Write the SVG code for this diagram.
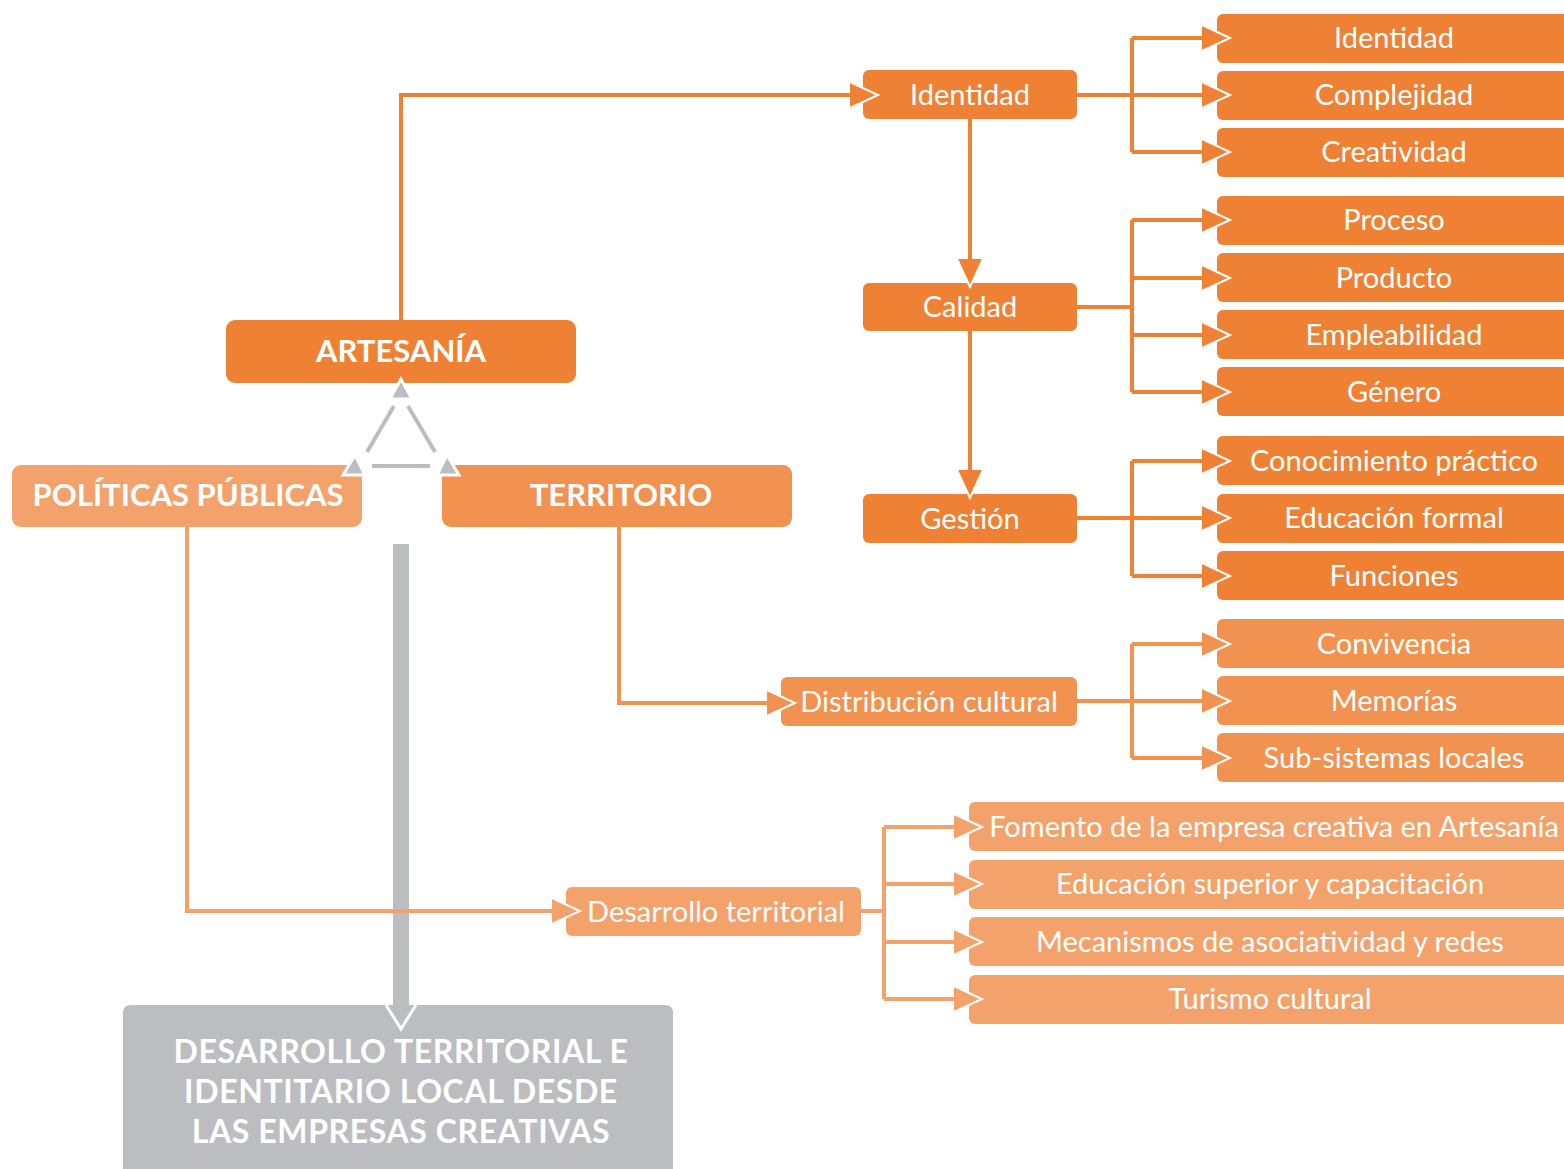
<svg xmlns="http://www.w3.org/2000/svg" xmlns:xlink="http://www.w3.org/1999/xlink" width="1564" height="1169" viewBox="0 0 1564 1169">
  <style>
    .dk { fill: #EF8134; }
    .md { fill: #F29250; }
    .lt { fill: #F4A26B; }
    .gr { fill: #BCBDC0; }
    .t  { font-family: Lato, "Open Sans", "Liberation Sans", sans-serif; font-size: 29px; font-weight: normal; fill: #FFFFFF; text-anchor: middle; }
    .tb { font-family: Lato, "Open Sans", "Liberation Sans", sans-serif; font-size: 31px; font-weight: bold; fill: #FFFFFF; text-anchor: middle; }
    .tg { font-family: Lato, "Open Sans", "Liberation Sans", sans-serif; font-size: 32px; font-weight: bold; letter-spacing: 0.6px; fill: #FFFFFF; text-anchor: middle; }
    .ln { fill: none; stroke-width: 4; }
    .sdk { stroke: #EF8134; }
    .smd { stroke: #F29250; }
    .slt { stroke: #F4A26B; }
  </style>
  <defs>
    <!-- arrowheads pointing right, tip at origin; the white edge separates each from the box it enters -->
    <g id="ah-dk">
      <polygon points="-28,-13 0,0 -28,13" fill="#EF8134"/>
      <polyline points="-28,-13 0,0 -28,13" fill="none" stroke="#FFFFFF" stroke-width="2"/>
    </g>
    <g id="ah-md">
      <polygon points="-28,-13 0,0 -28,13" fill="#F29250"/>
      <polyline points="-28,-13 0,0 -28,13" fill="none" stroke="#FFFFFF" stroke-width="2"/>
    </g>
    <g id="ah-lt">
      <polygon points="-28,-13 0,0 -28,13" fill="#F4A26B"/>
      <polyline points="-28,-13 0,0 -28,13" fill="none" stroke="#FFFFFF" stroke-width="2"/>
    </g>
  </defs>

  <rect width="1564" height="1169" fill="#FFFFFF"/>

  <!-- connector lines -->
  <g id="connectors">
    <!-- ARTESANÍA to Identidad -->
    <path class="ln sdk" d="M401,322 V95 H852"/>
    <!-- Identidad to Calidad to Gestión -->
    <path class="ln sdk" d="M970,119 V270"/>
    <path class="ln sdk" d="M970,331 V482"/>
    <!-- Identidad branch -->
    <path class="ln sdk" d="M1077,95 H1205 M1132,38 V152 M1132,38 H1205 M1132,152 H1205"/>
    <!-- Calidad branch -->
    <path class="ln sdk" d="M1077,307 H1132 M1132,220 V392 M1132,220 H1205 M1132,278 H1205 M1132,335 H1205 M1132,392 H1205"/>
    <!-- Gestión branch -->
    <path class="ln sdk" d="M1077,518 H1205 M1132,461 V576 M1132,461 H1205 M1132,576 H1205"/>
    <!-- TERRITORIO to Distribución cultural -->
    <path class="ln smd" d="M619,527 V703 H770"/>
    <!-- Distribución cultural branch -->
    <path class="ln smd" d="M1077,701 H1205 M1132,644 V758 M1132,644 H1205 M1132,758 H1205"/>
  </g>

  <!-- gray trunk arrow down to the outcome box -->
  <g id="trunk">
    <path class="gr" d="M393,544 H409 V1005 H415 L401,1029 L387,1005 H393 Z"/>
  </g>

  <!-- outcome box -->
  <g id="node-desarrollo-local">
    <path class="gr" d="M123,1013 Q123,1005 131,1005 H665 Q673,1005 673,1013 V1169 H123 Z"/>
    <polyline points="386,1005 401,1029 416,1005" fill="none" stroke="#FFFFFF" stroke-width="3"/>
    <text class="tg" x="401" y="1063">DESARROLLO TERRITORIAL E</text>
    <text class="tg" x="401" y="1103">IDENTITARIO LOCAL DESDE</text>
    <text class="tg" x="401" y="1143">LAS EMPRESAS CREATIVAS</text>
  </g>

  <!-- POLÍTICAS PÚBLICAS to Desarrollo territorial (drawn over the trunk) -->
  <g id="connectors-politicas">
    <path class="ln slt" d="M187,527 V911 H555"/>
    <path class="ln slt" d="M861,911 H884 M884,827 V999 M884,827 H958 M884,884 H958 M884,942 H958 M884,999 H958"/>
  </g>

  <!-- main nodes -->
  <g id="node-artesania">
    <rect class="dk" x="226" y="320" width="350" height="63" rx="9"/>
    <text class="tb" x="401" y="362">ARTESANÍA</text>
  </g>
  <g id="node-politicas">
    <rect class="lt" x="12" y="465" width="350" height="62" rx="9"/>
    <text class="tb" x="188" y="506">POLÍTICAS PÚBLICAS</text>
  </g>
  <g id="node-territorio">
    <rect class="md" x="442" y="465" width="350" height="62" rx="9"/>
    <text class="tb" x="621" y="506">TERRITORIO</text>
  </g>

  <!-- triangle linking the three pillars -->
  <g id="triangle" fill="#BCBDC0">
    <path class="ln" stroke="#BCBDC0" d="M394,406 L367,452 M408,406 L435,452 M372,466 H430"/>
    <polygon points="401,379 390,399 412,399" stroke="#FFFFFF" stroke-width="3"/>
    <polygon points="343,475 365,475 355,455" stroke="#FFFFFF" stroke-width="3"/>
    <polygon points="459,475 437,475 447,455" stroke="#FFFFFF" stroke-width="3"/>
  </g>

  <!-- middle column -->
  <g id="node-identidad">
    <rect class="dk" x="863" y="70" width="214" height="49" rx="6"/>
    <text class="t" x="970" y="105">Identidad</text>
  </g>
  <g id="node-calidad">
    <rect class="dk" x="863" y="283" width="214" height="48" rx="6"/>
    <text class="t" x="970" y="317">Calidad</text>
  </g>
  <g id="node-gestion">
    <rect class="dk" x="863" y="494" width="214" height="49" rx="6"/>
    <text class="t" x="970" y="529">Gestión</text>
  </g>
  <g id="node-distribucion">
    <rect class="md" x="781" y="677" width="296" height="49" rx="6"/>
    <text class="t" x="929" y="712">Distribución cultural</text>
  </g>
  <g id="node-desarrollo-territorial">
    <rect class="lt" x="566" y="887" width="295" height="49" rx="6"/>
    <text class="t" x="716" y="922">Desarrollo territorial</text>
  </g>

  <!-- right column: Identidad -->
  <g id="node-r-identidad"><rect class="dk" x="1217" y="14" width="360" height="49" rx="6"/><text class="t" x="1394" y="48">Identidad</text></g>
  <g id="node-r-complejidad"><rect class="dk" x="1217" y="71" width="360" height="49" rx="6"/><text class="t" x="1394" y="105">Complejidad</text></g>
  <g id="node-r-creatividad"><rect class="dk" x="1217" y="128" width="360" height="49" rx="6"/><text class="t" x="1394" y="162">Creatividad</text></g>
  <!-- right column: Calidad -->
  <g id="node-r-proceso"><rect class="dk" x="1217" y="196" width="360" height="49" rx="6"/><text class="t" x="1394" y="230">Proceso</text></g>
  <g id="node-r-producto"><rect class="dk" x="1217" y="253" width="360" height="49" rx="6"/><text class="t" x="1394" y="288">Producto</text></g>
  <g id="node-r-empleabilidad"><rect class="dk" x="1217" y="310" width="360" height="49" rx="6"/><text class="t" x="1394" y="345">Empleabilidad</text></g>
  <g id="node-r-genero"><rect class="dk" x="1217" y="367" width="360" height="49" rx="6"/><text class="t" x="1394" y="402">Género</text></g>
  <!-- right column: Gestión -->
  <g id="node-r-conocimiento"><rect class="dk" x="1217" y="436" width="360" height="49" rx="6"/><text class="t" x="1394" y="471">Conocimiento práctico</text></g>
  <g id="node-r-educacion-formal"><rect class="dk" x="1217" y="494" width="360" height="49" rx="6"/><text class="t" x="1394" y="528">Educación formal</text></g>
  <g id="node-r-funciones"><rect class="dk" x="1217" y="551" width="360" height="49" rx="6"/><text class="t" x="1394" y="586">Funciones</text></g>
  <!-- right column: Distribución cultural -->
  <g id="node-r-convivencia"><rect class="md" x="1217" y="619" width="360" height="49" rx="6"/><text class="t" x="1394" y="654">Convivencia</text></g>
  <g id="node-r-memorias"><rect class="md" x="1217" y="676" width="360" height="49" rx="6"/><text class="t" x="1394" y="711">Memorías</text></g>
  <g id="node-r-subsistemas"><rect class="md" x="1217" y="733" width="360" height="49" rx="6"/><text class="t" x="1394" y="768">Sub-sistemas locales</text></g>
  <!-- lower column: Desarrollo territorial -->
  <g id="node-r-fomento"><rect class="lt" x="969" y="802" width="610" height="49" rx="6"/><text class="t" x="1274" y="837">Fomento de la empresa creativa en Artesanía</text></g>
  <g id="node-r-educacion-superior"><rect class="lt" x="969" y="860" width="610" height="49" rx="6"/><text class="t" x="1270" y="894">Educación superior y capacitación</text></g>
  <g id="node-r-mecanismos"><rect class="lt" x="969" y="917" width="610" height="49" rx="6"/><text class="t" x="1270" y="952">Mecanismos de asociatividad y redes</text></g>
  <g id="node-r-turismo"><rect class="lt" x="969" y="975" width="610" height="49" rx="6"/><text class="t" x="1270" y="1009">Turismo cultural</text></g>

  <!-- arrowheads, on top of the boxes they enter -->
  <g id="arrowheads">
    <use xlink:href="#ah-dk" transform="translate(878,95)"/>
    <use xlink:href="#ah-dk" transform="translate(970,287) rotate(90)"/>
    <use xlink:href="#ah-dk" transform="translate(970,498) rotate(90)"/>
    <use xlink:href="#ah-dk" transform="translate(1230,38)"/>
    <use xlink:href="#ah-dk" transform="translate(1230,95)"/>
    <use xlink:href="#ah-dk" transform="translate(1230,152)"/>
    <use xlink:href="#ah-dk" transform="translate(1230,220)"/>
    <use xlink:href="#ah-dk" transform="translate(1230,278)"/>
    <use xlink:href="#ah-dk" transform="translate(1230,335)"/>
    <use xlink:href="#ah-dk" transform="translate(1230,392)"/>
    <use xlink:href="#ah-dk" transform="translate(1230,461)"/>
    <use xlink:href="#ah-dk" transform="translate(1230,518)"/>
    <use xlink:href="#ah-dk" transform="translate(1230,576)"/>
    <use xlink:href="#ah-md" transform="translate(795,703)"/>
    <use xlink:href="#ah-md" transform="translate(1230,644)"/>
    <use xlink:href="#ah-md" transform="translate(1230,701)"/>
    <use xlink:href="#ah-md" transform="translate(1230,758)"/>
    <use xlink:href="#ah-lt" transform="translate(580,911)"/>
    <use xlink:href="#ah-lt" transform="translate(982,827)"/>
    <use xlink:href="#ah-lt" transform="translate(982,884)"/>
    <use xlink:href="#ah-lt" transform="translate(982,942)"/>
    <use xlink:href="#ah-lt" transform="translate(982,999)"/>
  </g>
</svg>
